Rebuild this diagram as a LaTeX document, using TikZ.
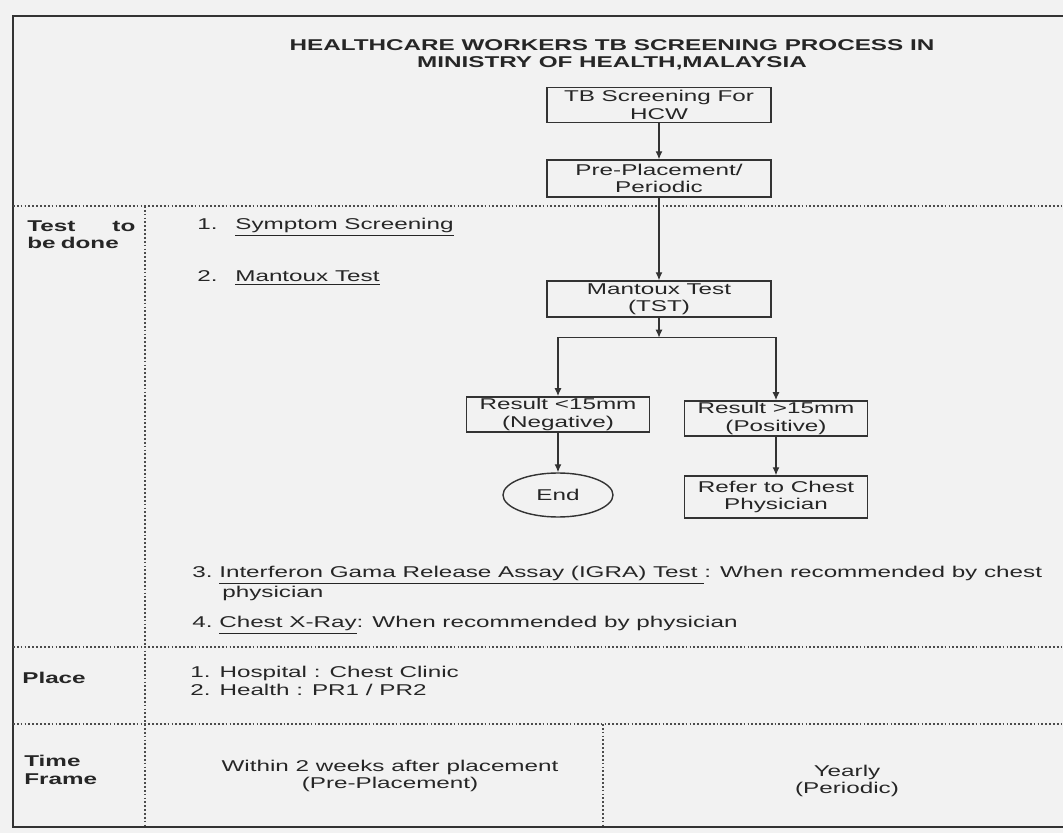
\documentclass[tikz,border=0pt]{standalone}
\usepackage{fontspec}
\setmainfont{Liberation Sans}[FakeStretch=1.55]
\usepackage{tikz}
\usetikzlibrary{arrows.meta, shapes.geometric}
\newcommand{\figfont}{\fontsize{8.9}{9.8}\selectfont}

\begin{document}
\begin{tikzpicture}[
    font=\figfont,
    every node/.style={text=black!85},
    box/.style={draw=black!80, line width=0.8pt, minimum width=4.48cm, minimum height=0.7cm, inner sep=1pt, align=center},
    result/.style={box, minimum width=3.66cm},
    item/.style={anchor=west, align=left, inner sep=0pt},
    rowlabel/.style={item, font=\figfont\bfseries},
    rowline/.style={black!70, line width=0.6pt, dash pattern=on 1pt off 1.2pt},
    arrow/.style={-{Latex[length=1.6mm, width=1.4mm]}, black!80, line width=0.7pt}
]
% Page
\fill[black!5] (0,0) rectangle (21.26,-16.66);
\useasboundingbox (0,0) rectangle (21.26,-16.66);

% Table frame and rows
\draw[black!80, line width=1.2pt] (21.26,-0.32) -- (0.26,-0.32) -- (0.26,-16.54) -- (21.26,-16.54);
\draw[rowline] (0.26,-4.12) -- (21.26,-4.12);
\draw[rowline] (0.26,-12.94) -- (21.26,-12.94);
\draw[rowline] (0.26,-14.48) -- (21.26,-14.48);
\draw[rowline] (2.9,-4.12) -- (2.9,-16.54);
\draw[rowline] (12.06,-14.48) -- (12.06,-16.54);

% Title
\node[font=\figfont\bfseries, align=center] (title) at (12.24,-1.1) {HEALTHCARE WORKERS TB SCREENING PROCESS IN\\MINISTRY OF HEALTH,MALAYSIA};

% Flow
\node[box] (hcw) at (13.18,-2.10) {TB Screening For\\HCW};
\node[box, minimum height=0.74cm] (periodic) at (13.18,-3.57) {Pre-Placement/\\Periodic};
\node[box, minimum height=0.72cm] (mantoux) at (13.18,-5.98) {Mantoux Test\\(TST)};
\node[result] (neg) at (11.16,-8.29) {Result <15mm\\(Negative)};
\node[result] (pos) at (15.52,-8.37) {Result >15mm\\(Positive)};
\node[draw=black!80, line width=0.8pt, ellipse, minimum width=2.2cm, minimum height=0.88cm, inner sep=0pt] (end) at (11.16,-9.90) {End};
\node[result, minimum height=0.84cm] (refer) at (15.52,-9.94) {Refer to Chest\\Physician};

\draw[arrow] (hcw) -- (periodic);
\draw[arrow] (periodic) -- (mantoux);
\coordinate (split) at ([yshift=-0.4cm]mantoux.south);
\draw[arrow] (mantoux) -- (split);
\draw[arrow] (split) -| (neg);
\draw[arrow] (split) -| (pos);
\draw[arrow] (neg) -- (end);
\draw[arrow] (pos) -- (refer);

% Test to be done
\node[rowlabel, text width=2.16cm] (testlbl) at (0.54,-4.7) {Test\hfill to\\be done};
\node[item] (symptom) at (3.94,-4.54) {\makebox[0.76cm][l]{1.}\underline{Symptom Screening}};
\node[item] (tst) at (3.94,-5.56) {\makebox[0.76cm][l]{2.}\underline{Mantoux Test}};
\node[item] (igra) at (3.84,-11.67) {3.\ \underline{Interferon Gama Release Assay (IGRA) Test\ }: When recommended by chest\\\hspace*{0.6cm}physician};
\node[item] (xray) at (3.84,-12.5) {4.\ \underline{Chest X-Ray}: When recommended by physician};

% Place
\node[rowlabel] (placelbl) at (0.44,-13.56) {Place};
\node[item] (places) at (3.8,-13.62) {1. Hospital : Chest Clinic\\2. Health : PR1 / PR2};

% Time frame
\node[rowlabel] (timelbl) at (0.48,-15.4) {Time\\Frame};
\node[align=center] (within) at (7.8,-15.52) {Within 2 weeks after placement\\(Pre-Placement)};
\node[align=center] (yearly) at (16.94,-15.62) {Yearly\\(Periodic)};
\end{tikzpicture}
\end{document}
